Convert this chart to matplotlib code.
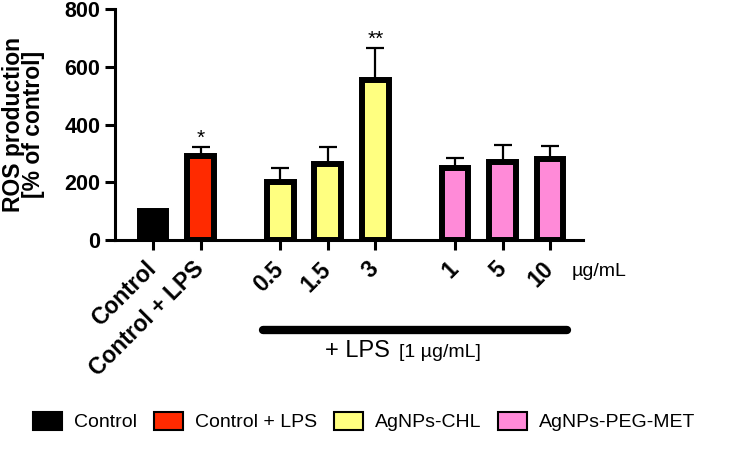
import matplotlib.pyplot as plt
from matplotlib.patches import Patch

# data
labels = ['Control', 'Control + LPS', '0.5', '1.5', '3', '1', '5', '10']
values = [100, 290, 200, 263, 555, 251, 271, 282]
errors = [0, 33, 50, 60, 109, 34, 59, 44]
groups = ['Control', 'Control + LPS', 'AgNPs-CHL', 'AgNPs-CHL', 'AgNPs-CHL',
          'AgNPs-PEG-MET', 'AgNPs-PEG-MET', 'AgNPs-PEG-MET']
stars = ['', '*', '', '', '**', '', '', '']
legend_names = ['Control', 'Control + LPS', 'AgNPs-CHL', 'AgNPs-PEG-MET']
colors = {'Control': '#000000', 'Control + LPS': '#FF2A00',
          'AgNPs-CHL': '#FFFF80', 'AgNPs-PEG-MET': '#FF8AD8'}

plt.rcParams['font.family'] = ['Liberation Sans', 'DejaVu Sans']

xpos = [0, 1, 2.68, 3.68, 4.68, 6.36, 7.36, 8.36]

fig = plt.figure(figsize=(7.34, 4.57), dpi=100)
ax = fig.add_axes([0.1567, 0.4748, 0.6373, 0.5052])

for x, v, e, g in zip(xpos, values, errors, groups):
    if e > 0:
        ax.errorbar(x, v, yerr=[[0], [e]], fmt='none', ecolor='black',
                    elinewidth=1.6, capsize=6.5, capthick=1.6, zorder=1)
    ax.bar(x, v, width=0.56, color=colors[g], edgecolor='black',
           linewidth=4.3, zorder=2)

for x, v, e, s in zip(xpos, values, errors, stars):
    if s:
        ax.text(x, v + e + 30, s, ha='center', va='center', fontsize=15)

ax.set_xlim(-0.8, 9.05)
ax.set_ylim(0, 800)
ax.set_yticks([0, 200, 400, 600, 800])
ax.set_xticks(xpos)
ax.set_xticklabels(labels, rotation=45, ha='right', va='center',
                   rotation_mode='anchor', fontweight='bold', fontsize=16.5)
for t in ax.get_yticklabels():
    t.set_fontweight('bold')
    t.set_fontsize(15.5)
ax.tick_params(axis='both', width=2.2, length=7.5, direction='out')
ax.tick_params(axis='x', pad=11)
ax.tick_params(axis='y', pad=3)
for side in ['top', 'right']:
    ax.spines[side].set_visible(False)
for side in ['left', 'bottom']:
    ax.spines[side].set_linewidth(2.2)

ax.set_ylabel('ROS production\n[% of control]', fontweight='bold',
              fontsize=16.5, linespacing=0.85)
ax.yaxis.set_label_coords(-0.150, 0.5)

fig.text(572 / 734, 0.405, 'µg/mL', ha='left', va='center', fontsize=14)

# + LPS bracket
ax.plot([2.32, 8.72], [-313, -313], color='black', lw=6, solid_capstyle='round',
        clip_on=False)
fig.text(0.4428, 0.2188, '+ LPS', ha='left', va='baseline', fontsize=17)
fig.text(0.543, 0.2188, '[1 µg/mL]', ha='left', va='baseline', fontsize=14)

handles = [Patch(facecolor=colors[n], edgecolor='black', linewidth=1.5)
           for n in legend_names]
fig.legend(handles, legend_names, loc='center', bbox_to_anchor=(0.496, 0.077),
           ncol=4, frameon=False, fontsize=14, handlelength=1.5,
           handleheight=1.0, handletextpad=0.6, columnspacing=0.87)

fig.savefig('out.png', dpi=100)
